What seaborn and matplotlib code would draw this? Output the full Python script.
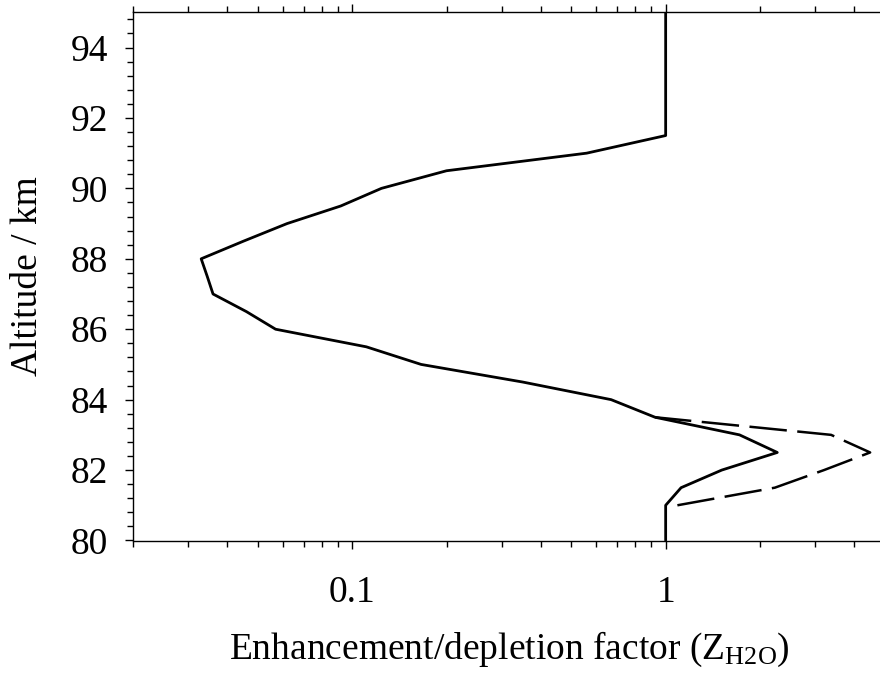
import numpy as np
import pandas as pd
import seaborn as sns
import matplotlib
matplotlib.use("Agg")
import matplotlib.pyplot as plt
import matplotlib.ticker as mticker

# altitude profile of the H2O enhancement/depletion factor
altitude_solid = [95.0, 91.5, 91.0, 90.5, 90.0, 89.5, 89.0, 88.5, 88.0, 87.5, 87.0,
                  86.5, 86.0, 85.5, 85.0, 84.5, 84.0, 83.5, 83.0, 82.5, 82.0, 81.5,
                  81.0, 80.0]
factor_solid = [1.0, 1.0, 0.56, 0.20, 0.124, 0.092, 0.062, 0.045, 0.033, 0.0345, 0.036,
                0.046, 0.057, 0.111, 0.166, 0.35, 0.67, 0.925, 1.72, 2.27, 1.51, 1.12,
                1.0, 1.0]

altitude_dashed = [83.5, 83.0, 82.5, 82.0, 81.5, 81.0]
factor_dashed = [0.925, 3.37, 4.49, 3.2, 2.23, 1.09]

x_ticks = [0.1, 1]
y_ticks = [80, 82, 84, 86, 88, 90, 92, 94]

sns.set_style("ticks")
plt.rcParams["font.family"] = ["Liberation Serif", "DejaVu Serif"]
plt.rcParams["mathtext.fontset"] = "custom"
plt.rcParams["mathtext.rm"] = "Liberation Serif"
plt.rcParams["mathtext.it"] = "Liberation Serif:italic"
plt.rcParams["text.color"] = "black"
plt.rcParams["axes.labelcolor"] = "black"

fig = plt.figure(figsize=(8.8, 6.73), dpi=100)
ax = fig.add_axes([133 / 880, 132.5 / 673, (884.8 - 133) / 880, (540.5 - 12.3) / 673])

solid = pd.DataFrame({"factor": factor_solid, "altitude": altitude_solid})
dashed = pd.DataFrame({"factor": factor_dashed, "altitude": altitude_dashed})

sns.lineplot(data=solid, x="factor", y="altitude", orient="y", estimator=None,
             color="black", lw=2.0, ax=ax)
sns.lineplot(data=dashed, x="factor", y="altitude", orient="y", estimator=None,
             color="black", lw=1.8, linestyle=(0, (15, 4.2)), ax=ax)

ax.set_xscale("log")
ax.set_xlim(0.02, 5)
ax.set_ylim(80, 95)

ax.xaxis.set_major_locator(mticker.FixedLocator(x_ticks))
ax.xaxis.set_major_formatter(mticker.FuncFormatter(lambda v, _: f"{v:g}"))
ax.xaxis.set_minor_locator(mticker.LogLocator(base=10, subs=np.arange(2, 10)))
ax.xaxis.set_minor_formatter(mticker.NullFormatter())
ax.yaxis.set_major_locator(mticker.FixedLocator(y_ticks))
ax.yaxis.set_minor_locator(mticker.MultipleLocator(0.4))

for s in ax.spines.values():
    s.set_linewidth(1.0)
    s.set_color("black")

ax.tick_params(axis="both", which="both", direction="out", width=1.0, color="black",
               labelsize=27, labelcolor="black")
ax.tick_params(axis="x", which="both", top=True, bottom=True, pad=19)
ax.tick_params(axis="y", which="both", left=True, right=True, pad=12)
ax.tick_params(which="major", length=6)
ax.tick_params(which="minor", length=4.3)

ax.set_xlabel(r"Enhancement/depletion factor (Z$_{\mathrm{H2O}}$)", fontsize=27,
              color="black")
ax.xaxis.set_label_coords(0.5, (540.5 - 659) / 528.2)
ax.xaxis.label.set_va("baseline")
ax.set_ylabel("Altitude / km", fontsize=27, color="black")
ax.yaxis.set_label_coords((28 - 133) / 751.8, 0.5)
ax.yaxis.label.set_va("center")

fig.savefig("out.png", dpi=100)
